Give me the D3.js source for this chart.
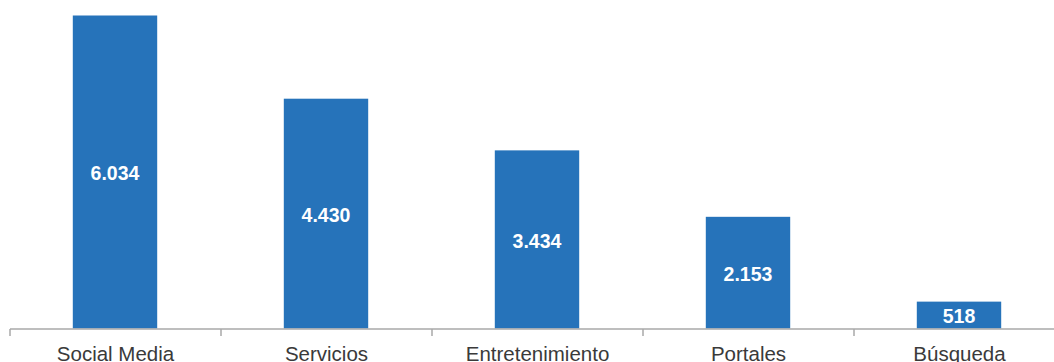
<!DOCTYPE html>
<html>
<head>
<meta charset="utf-8">
<script src="https://cdn.jsdelivr.net/npm/d3@7"></script>
<style>
  html, body { margin: 0; padding: 0; background: #fff; }
  svg { display: block; }
</style>
</head>
<body>
<svg id="chart" width="1054" height="362"></svg>
<script>
const categories = ["Social Media", "Servicios", "Entretenimiento", "Portales", "Búsqueda"];
const values = [6034, 4430, 3434, 2153, 518];
const valueLabels = ["6.034", "4.430", "3.434", "2.153", "518"];

const svg = d3.select("#chart");
const baseY = 328.5;
const left = 10, right = 1065;

// Band scale for the axis ticks (category boundaries)
const xAxisScale = d3.scaleBand().domain(categories).range([left, right]).padding(0);
// Band scale for the bars themselves
const xBar = d3.scaleBand().domain(categories).range([left - 0.5, right - 0.5])
  .paddingInner(0.6).paddingOuter(0.3);

const y = d3.scaleLinear().domain([0, 6034]).range([baseY, 15.5]);

// Bars
svg.append("g").selectAll("rect")
  .data(categories)
  .join("rect")
  .attr("x", d => xBar(d))
  .attr("width", xBar.bandwidth())
  .attr("y", (d, i) => y(values[i]))
  .attr("height", (d, i) => baseY - y(values[i]))
  .attr("fill", "#2673ba");

// Value labels inside the bars
svg.append("g").selectAll("text")
  .data(categories)
  .join("text")
  .attr("x", d => xBar(d) + xBar.bandwidth() / 2)
  .attr("y", (d, i) => (y(values[i]) + baseY) / 2)
  .attr("dy", "0.42em")
  .attr("text-anchor", "middle")
  .attr("fill", "#fff")
  .attr("font-family", "'Liberation Sans', Arial, sans-serif")
  .attr("font-weight", "bold")
  .attr("font-size", "19.5px")
  .text((d, i) => valueLabels[i]);

// Axis line and boundary ticks
const axis = svg.append("g").attr("stroke", "#a9a9a9").attr("stroke-width", 1.5);
axis.append("line")
  .attr("x1", left).attr("x2", right)
  .attr("y1", baseY + 0.5).attr("y2", baseY + 0.5);
const boundaries = categories.map(c => xAxisScale(c)).concat([right]);
axis.selectAll("line.tick")
  .data(boundaries)
  .join("line")
  .attr("class", "tick")
  .attr("x1", d => d).attr("x2", d => d)
  .attr("y1", baseY + 0.5).attr("y2", baseY + 7.5);

// Category labels
svg.append("g").selectAll("text")
  .data(categories)
  .join("text")
  .attr("x", d => xAxisScale(d) + xAxisScale.bandwidth() / 2)
  .attr("y", 360.5)
  .attr("text-anchor", "middle")
  .attr("fill", "#3a3a3a")
  .attr("font-family", "'Liberation Sans', Arial, sans-serif")
  .attr("font-size", "20.5px")
  .text(d => d);
</script>
</body>
</html>
